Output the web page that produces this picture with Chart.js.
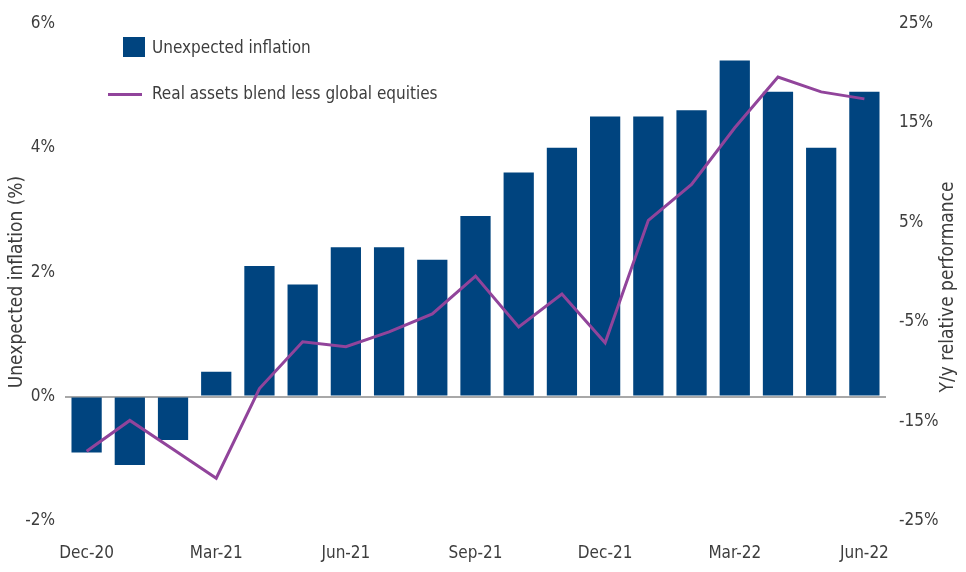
<!DOCTYPE html>
<html>
<head>
<meta charset="utf-8">
<script src="https://cdn.jsdelivr.net/npm/chart.js@4"></script>
<style>
  html, body { margin: 0; padding: 0; background: #fff; }
  #wrap { position: relative; width: 966px; height: 572px; }
  #legend { position: absolute; left: 0; top: 0; font-family: 'Liberation Sans Narrow', 'DejaVu Sans Condensed', sans-serif; font-size: 17px; color: #3d3d3d; }
  .item { position: absolute; white-space: nowrap; line-height: 20px; }
  .box { position: absolute; width: 22px; height: 20px; background: #00447f; }
  .ln { position: absolute; width: 34px; height: 3px; background: #91449b; }
</style>
</head>
<body>
<div id="wrap">
  <canvas id="chart" width="966" height="572"></canvas>
  <div id="legend">
    <div class="box" style="left:123px; top:37px;"></div>
    <div class="item" style="left:152px; top:37px;">Unexpected inflation</div>
    <div class="ln" style="left:108px; top:93px;"></div>
    <div class="item" style="left:152px; top:83px;">Real assets blend less global equities</div>
  </div>
</div>
<script>
// 月ラベル
var months = ['Dec-20', 'Jan-21', 'Feb-21', 'Mar-21', 'Apr-21', 'May-21', 'Jun-21', 'Jul-21', 'Aug-21', 'Sep-21',
  'Oct-21', 'Nov-21', 'Dec-21', 'Jan-22', 'Feb-22', 'Mar-22', 'Apr-22', 'May-22', 'Jun-22'];
// 予想外インフレ (%)
var unexpectedInflation = [-0.9, -1.1, -0.7, 0.4, 2.1, 1.8, 2.4, 2.4, 2.2, 2.9,
  3.6, 4.0, 4.5, 4.5, 4.6, 5.4, 4.9, 4.0, 4.9];
// 実物資産 - 世界株式 (%)
var realAssetsLessEquities = [-18.0, -14.9, -17.8, -20.7, -11.7, -7.0, -7.5, -6.0, -4.2, -0.4,
  -5.5, -2.2, -7.1, 5.2, 8.8, 14.5, 19.6, 18.1, 17.4];
// 目盛り
var leftTicks = [-2, 0, 2, 4, 6];
var rightTicks = [-25, -15, -5, 5, 15, 25];

var fontFamily = "'Liberation Sans Narrow', 'DejaVu Sans Condensed', sans-serif";
var textColor = '#3d3d3d';

// 軸タイトル (どちらも下から上へ)
var axisTitles = {
  id: 'axisTitles',
  afterDraw: function(chart) {
    var ctx = chart.ctx;
    ctx.save();
    ctx.font = '19px ' + fontFamily;
    ctx.fillStyle = textColor;
    ctx.textAlign = 'center';
    ctx.textBaseline = 'middle';
    [[17, 282, 'Unexpected inflation (%)'], [948, 287, 'Y/y relative performance']].forEach(function(t) {
      ctx.save();
      ctx.translate(t[0], t[1]);
      ctx.rotate(-Math.PI / 2);
      ctx.fillText(t[2], 0, 0);
      ctx.restore();
    });
    ctx.restore();
  }
};

var context = document.getElementById('chart').getContext('2d');
var myChart = new Chart(context, {
  type: 'bar',
  data: {
    labels: months,
    datasets: [{
      type: 'line',
      label: 'Real assets blend less global equities',
      data: realAssetsLessEquities,
      yAxisID: 'y1',
      borderColor: '#91449b',
      borderWidth: 3,
      pointRadius: 0,
      tension: 0,
      order: 0
    }, {
      label: 'Unexpected inflation',
      data: unexpectedInflation,
      yAxisID: 'y',
      backgroundColor: '#00447f',
      barPercentage: 0.7,
      categoryPercentage: 1.0,
      order: 1
    }]
  },
  options: {
    responsive: false,
    animation: false,
    layout: { padding: { top: 12, right: 0, left: 0, bottom: 0 } },
    plugins: {
      legend: { display: false },
      tooltip: { enabled: false }
    },
    scales: {
      x: {
        offset: true,
        grid: { display: false, drawTicks: false },
        border: { display: false },
        ticks: {
          autoSkip: false,
          maxRotation: 0,
          padding: 22,
          color: textColor,
          font: { family: fontFamily, size: 17 },
          callback: function(v, i) { return i % 3 === 0 ? months[i] : ''; }
        },
        afterFit: function(scale) { scale.height = 51; }
      },
      y: {
        position: 'left',
        min: -2,
        max: 6,
        afterBuildTicks: function(scale) { scale.ticks = leftTicks.map(function(v) { return { value: v }; }); },
        grid: {
          drawTicks: false,
          lineWidth: 2,
          color: function(c) { return c.tick && c.tick.value === 0 ? '#a8a8a8' : 'rgba(0,0,0,0)'; }
        },
        border: { display: false },
        ticks: {
          padding: 10,
          color: textColor,
          font: { family: fontFamily, size: 17 },
          callback: function(v) { return v + '%'; }
        },
        afterFit: function(scale) { scale.width = 65; }
      },
      y1: {
        position: 'right',
        min: -25,
        max: 25,
        afterBuildTicks: function(scale) { scale.ticks = rightTicks.map(function(v) { return { value: v }; }); },
        grid: { display: false, drawTicks: false },
        border: { display: false },
        ticks: {
          padding: 13,
          color: textColor,
          font: { family: fontFamily, size: 17 },
          callback: function(v) { return v + '%'; }
        },
        afterFit: function(scale) { scale.width = 80; }
      }
    }
  },
  plugins: [axisTitles]
});
</script>
</body>
</html>
